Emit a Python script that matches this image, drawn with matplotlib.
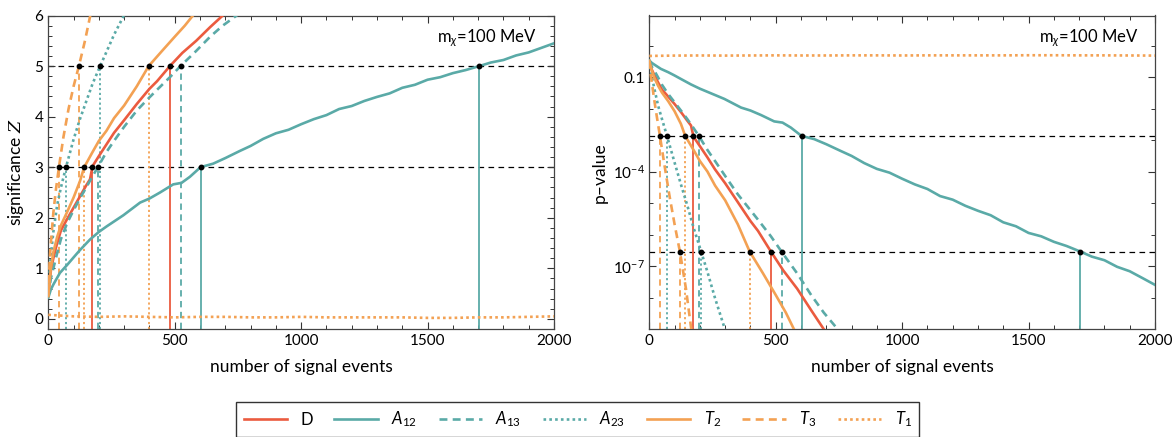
import math
import numpy as np
import matplotlib
matplotlib.use("Agg")
import matplotlib.pyplot as plt
from matplotlib.ticker import MultipleLocator, FixedLocator, NullFormatter
from matplotlib.lines import Line2D

plt.rcParams['font.family'] = ['Lato', 'DejaVu Sans']
plt.rcParams['mathtext.fontset'] = 'custom'
plt.rcParams['mathtext.rm'] = 'Lato'
plt.rcParams['mathtext.it'] = 'Lato:italic'
plt.rcParams['mathtext.cal'] = 'DejaVu Serif:italic'

RED = '#EB5B3F'
TEAL = '#5AAAA7'
ORANGE = '#F3A153'

# significance Z vs number of signal events
n_D = [0, 10, 20, 35, 50, 75, 100, 125, 150, 165, 175, 200, 230, 260, 300, 350, 400, 430, 481, 530, 585, 640, 690, 710]
z_D = [0.45, 0.95, 1.2, 1.5, 1.75, 1.98, 2.2, 2.42, 2.64, 2.76, 3.02, 3.22, 3.45, 3.68, 3.93, 4.25, 4.55, 4.70, 5.0, 5.26, 5.50, 5.77, 6.0, 6.1]

n_A12 = [0, 10, 20, 46, 75, 99, 125, 165, 200, 231, 297, 363, 400, 442, 494, 527, 560, 602, 652, 700, 757, 800, 850,
         900, 950, 1000, 1050, 1100, 1150, 1200, 1250, 1300, 1350, 1400, 1450, 1500, 1550, 1600, 1650, 1705, 1750,
         1800, 1850, 1900, 1950, 2000]
z_A12 = [0.42, 0.58, 0.68, 0.91, 1.07, 1.21, 1.36, 1.57, 1.72, 1.83, 2.05, 2.30, 2.38, 2.50, 2.66, 2.69, 2.81, 3.0, 3.07,
         3.18, 3.32, 3.42, 3.56, 3.67, 3.74, 3.85, 3.95, 4.03, 4.15, 4.21, 4.31, 4.39, 4.46, 4.57, 4.63, 4.73, 4.78,
         4.86, 4.92, 5.0, 5.07, 5.12, 5.21, 5.27, 5.36, 5.45]

n_A13 = [0, 10, 20, 35, 50, 75, 100, 125, 150, 175, 196, 230, 260, 300, 350, 400, 430, 481, 523, 585, 640, 690, 745, 760]
z_A13 = [0.45, 0.8, 1.0, 1.3, 1.58, 1.9, 2.15, 2.38, 2.6, 2.82, 3.0, 3.3, 3.52, 3.8, 4.12, 4.38, 4.53, 4.78, 5.0, 5.3, 5.58, 5.8, 6.0, 6.08]

n_A23 = [0, 5, 10, 20, 35, 50, 70, 100, 125, 150, 175, 205, 230, 260, 299, 305]
z_A23 = [0.45, 0.9, 1.25, 1.72, 2.25, 2.6, 3.0, 3.55, 3.95, 4.3, 4.65, 5.0, 5.28, 5.62, 6.0, 6.06]

n_T2 = [0, 10, 20, 35, 50, 75, 100, 125, 142, 175, 200, 230, 260, 300, 350, 397, 450, 500, 540, 572, 590]
z_T2 = [0.45, 1.0, 1.32, 1.62, 1.85, 2.12, 2.4, 2.72, 3.0, 3.3, 3.52, 3.72, 3.97, 4.22, 4.6, 5.0, 5.3, 5.58, 5.8, 6.0, 6.1]

n_T3 = [0, 5, 10, 20, 30, 42, 60, 80, 100, 121, 145, 166, 175]
z_T3 = [0.45, 1.1, 1.5, 2.1, 2.55, 3.0, 3.6, 4.15, 4.6, 5.0, 5.5, 6.0, 6.12]

n_T1 = [0, 100, 200, 300, 400, 500, 600, 700, 800, 900, 1000, 1100, 1200, 1300, 1400, 1500, 1600, 1700, 1800, 1900, 2000]
z_T1 = [0.08, 0.05, 0.04, 0.05, 0.04, 0.03, 0.04, 0.04, 0.03, 0.03, 0.04, 0.03, 0.03, 0.03, 0.03, 0.02, 0.02, 0.03, 0.03, 0.04, 0.05]

# events needed for 3 sigma and 5 sigma
cross3 = {'D': 174, 'A12': 602, 'A13': 196, 'A23': 70, 'T2': 142, 'T3': 42}
cross5 = {'D': 481, 'A12': 1705, 'A13': 523, 'A23': 205, 'T2': 397, 'T3': 121}


def pval(z):
    # one-sided p-value for a significance Z
    return np.array([0.5 * math.erfc(v / math.sqrt(2)) for v in z])


series = [
    ('D', n_D, z_D, RED, '-', '-'),
    ('A12', n_A12, z_A12, TEAL, '-', '-'),
    ('A13', n_A13, z_A13, TEAL, (0, (3, 2)), (0, (3.5, 2.5))),
    ('A23', n_A23, z_A23, TEAL, (0, (1, 1.2)), (0, (1.2, 1.5))),
    ('T2', n_T2, z_T2, ORANGE, '-', (0, (1.2, 1.5))),
    ('T3', n_T3, z_T3, ORANGE, (0, (3, 2)), (0, (3.5, 2.5))),
    ('T1', n_T1, z_T1, ORANGE, (0, (1, 1.2)), None),
]
labels = {'D': 'D', 'A12': '$A_{12}$', 'A13': '$A_{13}$', 'A23': '$A_{23}$',
          'T2': '$T_2$', 'T3': '$T_3$', 'T1': '$T_1$'}

fig = plt.figure(figsize=(11.74, 4.37), dpi=100)
ax1 = fig.add_axes([48.3 / 1174, 1 - 329 / 437, 505.7 / 1174, 313.5 / 437])
ax2 = fig.add_axes([649.3 / 1174, 1 - 329 / 437, 505.7 / 1174, 313.5 / 437])

p3 = 0.5 * math.erfc(3 / math.sqrt(2))
p5 = 0.5 * math.erfc(5 / math.sqrt(2))
ymin2, ymax2 = 1.0e-9, 9.0

# left panel
ax1.set_xlim(0, 2000)
ax1.set_ylim(-0.2, 6)
for lvl in (3, 5):
    ax1.axhline(lvl, color='black', lw=0.9, ls=(0, (4.5, 3.5)), zorder=1)
for key, n, z, c, ls, vls in series:
    if vls is not None:
        for lvl, cr in ((3, cross3), (5, cross5)):
            ax1.plot([cr[key], cr[key]], [-0.2, lvl], color=c, lw=1.3, ls=vls, zorder=2)
    ax1.plot(n, z, color=c, lw=1.9, ls=ls, zorder=3)
for lvl, cr in ((3, cross3), (5, cross5)):
    ax1.plot(list(cr.values()), [lvl] * len(cr), 'o', color='black', ms=3.2, zorder=5)
ax1.text(0.966, 0.928, r'm$_{\chi}$=100 MeV', transform=ax1.transAxes,
         ha='right', va='center', fontsize=12)
ax1.set_xlabel('number of signal events', fontsize=12.5)
ax1.set_ylabel(r'significance $\mathcal{Z}$', fontsize=12.5)
ax1.xaxis.set_label_coords(0.5, -0.097)
ax1.yaxis.set_label_coords(-0.045, 0.5)
ax1.xaxis.set_major_locator(MultipleLocator(500))
ax1.xaxis.set_minor_locator(MultipleLocator(100))
ax1.yaxis.set_major_locator(MultipleLocator(1))
ax1.yaxis.set_minor_locator(MultipleLocator(0.2))

# right panel
ax2.set_xlim(0, 2000)
ax2.set_yscale('log')
ax2.set_ylim(ymin2, ymax2)
for lvl in (p3, p5):
    ax2.axhline(lvl, color='black', lw=0.9, ls=(0, (4.5, 3.5)), zorder=1)
for key, n, z, c, ls, vls in series:
    if vls is not None:
        for lvl, cr in ((p3, cross3), (p5, cross5)):
            ax2.plot([cr[key], cr[key]], [ymin2, lvl], color=c, lw=1.3, ls=vls, zorder=2)
    ax2.plot(n, pval(z), color=c, lw=1.9, ls=ls, zorder=3)
for lvl, cr in ((p3, cross3), (p5, cross5)):
    ax2.plot(list(cr.values()), [lvl] * len(cr), 'o', color='black', ms=3.2, zorder=5)
ax2.text(0.968, 0.928, r'm$_{\chi}$=100 MeV', transform=ax2.transAxes,
         ha='right', va='center', fontsize=12)
ax2.set_xlabel('number of signal events', fontsize=12.5)
ax2.set_ylabel('p\u2013value', fontsize=12.5)
ax2.xaxis.set_label_coords(0.5, -0.097)
ax2.yaxis.set_label_coords(-0.083, 0.5)
ax2.xaxis.set_major_locator(MultipleLocator(500))
ax2.xaxis.set_minor_locator(MultipleLocator(100))
ax2.yaxis.set_major_locator(FixedLocator([1e-1, 1e-4, 1e-7]))
ax2.set_yticklabels(['0.1', '10$^{-4}$', '10$^{-7}$'])
ax2.yaxis.set_minor_locator(FixedLocator([1e0, 1e-2, 1e-3, 1e-5, 1e-6, 1e-8]))
ax2.yaxis.set_minor_formatter(NullFormatter())

for ax in (ax1, ax2):
    ax.tick_params(which='both', direction='in', top=True, right=True,
                   labelsize=11, colors='#333333', labelcolor='black')
    ax.tick_params(which='major', length=5, width=0.8)
    ax.tick_params(which='minor', length=3, width=0.7)
    for s in ax.spines.values():
        s.set_color('#444444')
        s.set_linewidth(0.9)

handles = []
for key, n, z, c, ls, vls in series:
    handles.append(Line2D([], [], color=c, lw=1.9, ls=ls, label=labels[key]))
fig.legend(handles=handles, loc='upper center', bbox_to_anchor=(0.492, 0.08),
           ncol=7, frameon=True, fancybox=False, edgecolor='black', fontsize=12,
           handlelength=2.6, columnspacing=1.3, handletextpad=0.8, borderpad=0.45,
           borderaxespad=0.0)

fig.savefig('out.png', dpi=100)
